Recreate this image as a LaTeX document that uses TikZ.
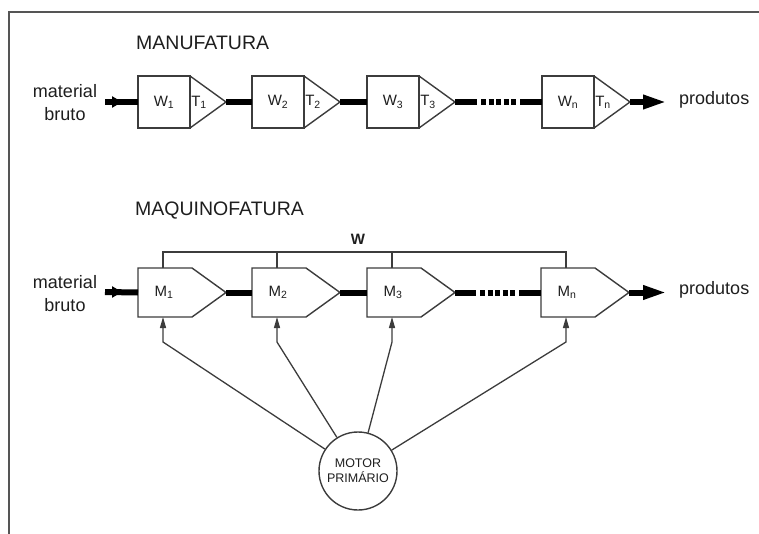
\documentclass[tikz,border=0pt]{standalone}
\usepackage{fontspec}
\setmainfont{Liberation Sans}
\usetikzlibrary{arrows.meta,calc}
\definecolor{ink}{HTML}{1E1E1E}
\definecolor{edgegray}{HTML}{3C3C3C}
\definecolor{framegray}{HTML}{555555}

\begin{document}
\begin{tikzpicture}[x=1pt,y=-1pt,
  outline/.style={draw=edgegray,line width=1.4pt,line join=miter},
  wbox/.style={outline,fill=white,rectangle,minimum width=52pt,minimum height=52pt,
    inner sep=0pt,outer sep=0pt,text=ink,font=\fontsize{15}{18}\selectfont},
  lbl/.style={text=ink,font=\fontsize{15}{18}\selectfont,inner sep=0pt},
  txt/.style={text=ink,font=\fontsize{18}{23}\selectfont,inner sep=0pt},
  heading/.style={text=ink,font=\fontsize{19.5}{23}\selectfont,inner sep=0pt,anchor=west},
  flow/.style={draw=black,line width=6pt,line cap=butt},
  feed/.style={draw=edgegray,line width=1.3pt,-{Triangle[length=11pt,width=6pt]}},
  frameline/.style={draw=framegray,line width=2pt}
]
\useasboundingbox (0,0) rectangle (759,534);

% page frame
\coordinate (fbl) at (9,540);
\coordinate (ftl) at (9,12);
\coordinate (ftr) at (765,12);
\draw[frameline] (fbl) -- (ftl) -- (ftr);

% headings
\node[heading] (tman) at (136,43) {MANUFATURA};
\node[heading] (tmaq) at (135,211) {MAQUINOFATURA};

% ---------- manufacture: workers W and tools T ----------
\foreach \i/\x in {1/138,2/252,3/367,n/542}{
  \node[wbox] (w\i) at (\x+26,102) {W\textsubscript{\i}};
  \draw[outline] (w\i.north east) -- ([xshift=36pt]w\i.east) coordinate (t\i) -- (w\i.south east);
  \node[lbl] (tl\i) at ([xshift=9pt]w\i.east) {T\textsubscript{\i}};
}

\coordinate (in1) at (105,102);
\coordinate (in1h) at (122,102);
\draw[flow] (in1) -- (w1.west);
\draw[flow,-{Triangle[length=10pt,width=11pt]}] (in1) -- (in1h);
\draw[flow] (t1) -- (w2.west);
\draw[flow] (t2) -- (w3.west);
\coordinate (da1) at (477,102);
\coordinate (db1) at (481,102);
\coordinate (dc1) at (516,102);
\coordinate (dd1) at (520,102);
\draw[flow] (t3) -- (da1);
\draw[flow,dash pattern=on 5pt off 2.5pt] (db1) -- (dc1);
\draw[flow] (dd1) -- (wn.west);
\coordinate (out1) at (667,102);
\draw[flow,-{Triangle[length=24pt,width=13pt]}] (tn) -- (out1);

\node[txt,align=center] (mb1) at (65,103) {material\\bruto};
\node[txt,anchor=west] (pr1) at (679,100) {produtos};

% ---------- machinofacture: machines M ----------
\foreach \i/\x in {1/138,2/252,3/367,n/541}{
  \draw[outline,fill=white] (\x,268) -- (\x+54,268) -- (\x+88,292.5) coordinate (p\i)
    -- (\x+54,317) -- (\x,317) -- cycle;
  \coordinate (pw\i) at (\x,292.5);
  \coordinate (pt\i) at (\x+25,268);
  \coordinate (pb\i) at (\x+25,317);
  \node[lbl] (m\i) at (\x+26,292.5) {M\textsubscript{\i}};
}

% common power bus
\coordinate (busy) at (0,252);
\draw[outline] (pt1) -- (pt1 |- busy) -- (ptn |- busy) -- (ptn);
\draw[outline] (pt2) -- (pt2 |- busy);
\draw[outline] (pt3) -- (pt3 |- busy);
\node[lbl,font=\bfseries\fontsize{15}{18}\selectfont] (wbus) at (358,239) {W};

\coordinate (in2) at (105,292);
\coordinate (in2h) at (122,292);
\draw[flow] (in2) -- (pw1);
\draw[flow,-{Triangle[length=10pt,width=11pt]}] (in2) -- (in2h);
\draw[flow] (p1) -- (pw2);
\draw[flow] (p2) -- (pw3);
\coordinate (da2) at (476,292.5);
\coordinate (db2) at (480,292.5);
\coordinate (dc2) at (515,292.5);
\coordinate (dd2) at (519,292.5);
\draw[flow] (p3) -- (da2);
\draw[flow,dash pattern=on 5pt off 2.5pt] (db2) -- (dc2);
\draw[flow] (dd2) -- (pwn);
\coordinate (out2) at (667,292.5);
\draw[flow,-{Triangle[length=24pt,width=13pt]}] (pn) -- (out2);

\node[txt,align=center] (mb2) at (65,294) {material\\bruto};
\node[txt,anchor=west] (pr2) at (679,290) {produtos};

% prime mover
\node[circle,draw=edgegray,line width=1.4pt,minimum size=78pt,inner sep=0pt,
  align=center,text=ink,font=\fontsize{12.5}{15}\selectfont] (motor) at (358,471) {MOTOR\\PRIMÁRIO};

\foreach \i in {1,2,3,n}{
  \coordinate (k\i) at ($(pb\i)+(0,25)$);
  \draw[feed] (motor) -- (k\i) -- (pb\i);
}
\end{tikzpicture}
\end{document}
